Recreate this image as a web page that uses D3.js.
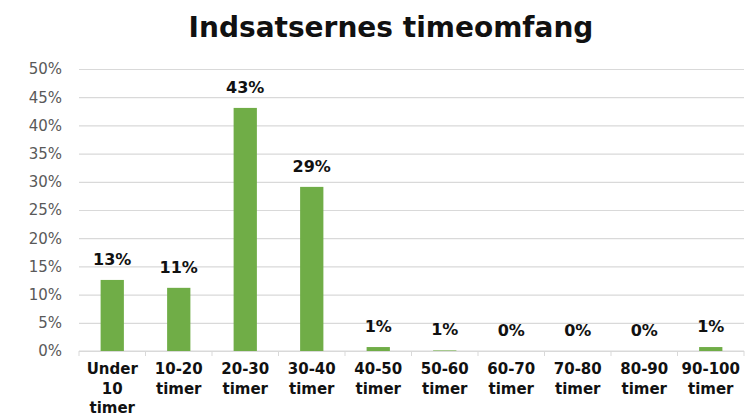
<!DOCTYPE html>
<html><head><meta charset="utf-8">
<script src="https://cdn.jsdelivr.net/npm/d3@7"></script>
<style>body{margin:0;background:#fff}svg{display:block}</style>
</head><body>
<script>
const title = "Indsatsernes timeomfang";
const categories = [["Under","10","timer"],["10-20","timer"],["20-30","timer"],["30-40","timer"],["40-50","timer"],["50-60","timer"],["60-70","timer"],["70-80","timer"],["80-90","timer"],["90-100","timer"]];
const values = [12.6, 11.2, 43.1, 29.1, 0.7, 0.1, 0, 0, 0, 0.7];
const valueLabels = ["13%","11%","43%","29%","1%","1%","0%","0%","0%","1%"];
const yTicks = [0,5,10,15,20,25,30,35,40,45,50];

const W = 749, H = 419;
const m = {left:79, right:5, top:69, bottom:68};
const svg = d3.select("body").append("svg").attr("width",W).attr("height",H);
const font = "'DejaVu Sans', sans-serif";

svg.append("text").attr("x",391).attr("y",37).attr("text-anchor","middle")
  .attr("font-family",font).attr("font-weight",700).attr("font-size",28).attr("fill","#111")
  .text(title);

const x = d3.scaleBand().domain(d3.range(categories.length)).range([m.left, W-m.right]).paddingInner(0.65).paddingOuter(0.325);
const xb = d3.scaleBand().domain(d3.range(categories.length)).range([m.left, W-m.right]);
const y = d3.scaleLinear().domain([0,50]).range([H-m.bottom, m.top]);

// grid
const yAxis = d3.axisLeft(y).tickValues(yTicks).tickFormat(d=>d+"%").tickSize(-(W-m.left-m.right)).tickPadding(17);
const ga = svg.append("g").attr("transform",`translate(${m.left},0)`).call(yAxis);
ga.select(".domain").remove();
ga.selectAll(".tick line").attr("stroke","#d9d9d9").attr("stroke-width",1.2);
ga.selectAll(".tick text").attr("font-family",font).attr("font-size",15).attr("fill","#595959");

// x axis
const xAxisG = svg.append("g").attr("transform",`translate(0,${y(0)})`);
xAxisG.append("line").attr("x1",m.left).attr("x2",W-m.right).attr("stroke","#d9d9d9").attr("stroke-width",1.2);
xAxisG.selectAll("line.t").data(d3.range(categories.length+1)).join("line").attr("class","t")
  .attr("x1",i=>m.left+i*xb.step()).attr("x2",i=>m.left+i*xb.step()).attr("y1",0).attr("y2",5).attr("stroke","#d9d9d9");

// bars
svg.selectAll("rect.bar").data(values).join("rect").attr("class","bar")
  .attr("x",(d,i)=>x(i)).attr("width",x.bandwidth())
  .attr("y",d=>y(d)).attr("height",d=>y(0)-y(d)).attr("fill","#70AD47");

// value labels
svg.selectAll("text.vl").data(values).join("text").attr("class","vl")
  .attr("x",(d,i)=>x(i)+x.bandwidth()/2).attr("y",d=>y(d)-15)
  .attr("text-anchor","middle").attr("font-family",font).attr("font-weight",700).attr("font-size",16).attr("fill","#111")
  .text((d,i)=>valueLabels[i]);

// category labels (one text per line)
const cg = svg.selectAll("g.cl").data(categories).join("g").attr("class","cl")
  .attr("transform",(d,i)=>`translate(${xb(i)+xb.bandwidth()/2},${y(0)+23})`);
cg.selectAll("text").data(d=>d).join("text")
  .attr("y",(d,j)=>j*19.5).attr("text-anchor","middle")
  .attr("font-family",font).attr("font-weight",700).attr("font-size",15).attr("fill","#111")
  .text(d=>d);
</script>
</body></html>
